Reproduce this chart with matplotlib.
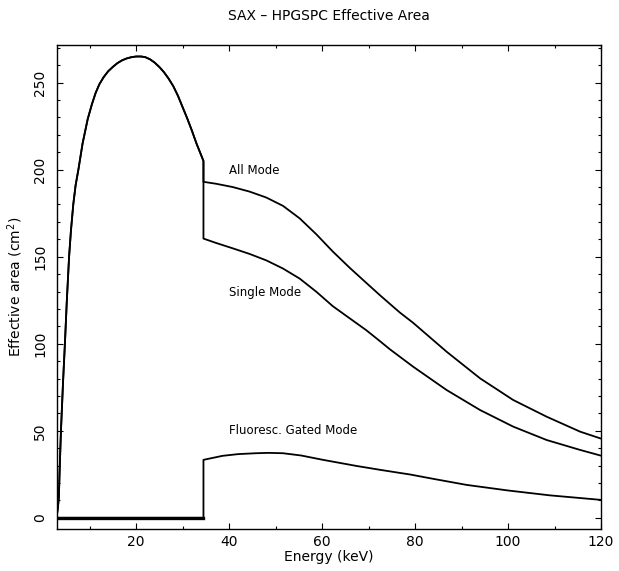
import matplotlib
matplotlib.use("Agg")
import matplotlib.pyplot as plt
from matplotlib.ticker import MultipleLocator

# ---- data ----
# common (All / Single) part below the Xe K edge
e_low = [3.0, 3.2, 3.4, 3.6, 3.85, 4.3, 4.7, 5.1, 5.6, 6.0, 6.5, 7.0, 7.6,
         8.5, 9.6, 10.5, 11.3, 12.1, 13.0, 14.0, 15.0, 16.0, 17.0, 18.0,
         19.0, 20.0, 21.1, 22.0, 23.0, 24.0, 25.0, 26.0, 27.0, 28.0, 29.0,
         30.0, 31.0, 32.0, 33.0, 34.5]
a_low = [2, 6, 12, 30, 50, 78, 100, 124, 150, 165, 180, 191, 200,
         215, 229, 237.5, 244, 249, 253, 256.5, 259, 261.2, 262.8, 263.9,
         264.6, 265, 265, 264.6, 263.4, 261.5, 259, 256, 252.3, 248, 242.5,
         236, 229.5, 222.5, 215, 205]

e_all_hi = [34.5, 37.2, 40.8, 44.4, 48.0, 51.6, 55.2, 58.8, 62.3, 66.0,
            69.5, 72.4, 76.7, 79.6, 86.8, 94.0, 101.1, 108.3, 115.5, 120.0]
a_all_hi = [193, 191.9, 190, 187.4, 184, 179.2, 172, 162.8, 153, 143.5,
            135, 128, 118, 112, 95.4, 80.1, 67.7, 58.1, 49.5, 45.5]

e_single_hi = [34.5, 37.2, 40.8, 44.4, 48.0, 51.6, 55.2, 58.8, 62.3, 66.0,
               69.5, 72.4, 74.6, 79.6, 86.8, 94.0, 101.1, 108.3, 115.5, 120.0]
a_single_hi = [160.4, 157.9, 154.8, 151.6, 147.9, 143.2, 137.4, 129.8, 121.6,
               114.5, 107.8, 101.6, 96.8, 86.8, 73.4, 61.9, 52.4, 44.7, 39.0,
               35.7]

e_fluo = [3.0, 34.5, 34.5, 38.6, 42.0, 45.8, 48.5, 51.6, 55.5, 60.2, 67.4,
          72.4, 76.7, 78.9, 84.3, 91.1, 100.0, 109.0, 120.0]
a_fluo = [0, 0, 33.3, 35.6, 36.6, 37.1, 37.3, 37.1, 35.8, 33.3, 29.8,
          27.6, 25.8, 24.9, 22.2, 18.9, 15.7, 12.9, 10.3]

labels = ["All Mode", "Single Mode", "Fluoresc. Gated Mode"]
label_pos_e = [40.0, 40.0, 40.0]
label_pos_a = [199.5, 129.6, 49.9]

title = "SAX \u2013 HPGSPC Effective Area"

# ---- figure ----
plt.rcParams['font.family'] = ['DejaVu Sans']
fig = plt.figure(figsize=(6.19, 5.71), dpi=100)
ax = fig.add_axes([57/619, 1-529.3/571, (601-57)/619, (529.3-45)/571])

lw = 1.3
ax.plot(e_low + e_all_hi, a_low + a_all_hi, color='black', lw=lw)
ax.plot(e_low + e_single_hi, a_low + a_single_hi, color='black', lw=lw)
ax.plot(e_fluo, a_fluo, color='black', lw=lw)
ax.plot(e_fluo[:2], a_fluo[:2], color='black', lw=2.4)

for t, x, y in zip(labels, label_pos_e, label_pos_a):
    ax.text(x, y, t, fontsize=8.5, ha='left', va='center')

ax.set_xlim(3, 120)
ax.set_ylim(-6.6, 271.6)
ax.xaxis.set_major_locator(MultipleLocator(20))
ax.xaxis.set_minor_locator(MultipleLocator(10))
ax.yaxis.set_major_locator(MultipleLocator(50))
ax.yaxis.set_minor_locator(MultipleLocator(10))
ax.tick_params(which='both', direction='in', top=True, right=True, width=0.8)
ax.tick_params(which='major', length=4.5, labelsize=10)
ax.tick_params(which='minor', length=2.4)
ax.tick_params(axis='x', pad=4)
for lab in ax.get_yticklabels():
    lab.set_rotation(90)
    lab.set_va('center')
ax.tick_params(axis='y', pad=7)
for s in ax.spines.values():
    s.set_linewidth(1)

ax.set_xlabel("Energy (keV)", fontsize=10, labelpad=1)
ax.set_ylabel("Effective area (cm$^2$)", fontsize=10, labelpad=6)
fig.text((57+601)/2/619, 1-16/571, title, ha='center', va='center', fontsize=10)

fig.savefig("out.png", dpi=100)
